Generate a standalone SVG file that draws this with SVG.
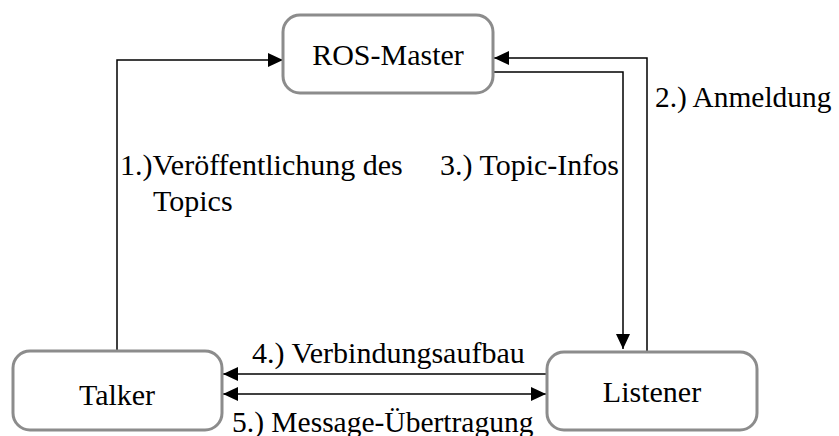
<svg xmlns="http://www.w3.org/2000/svg" width="839" height="436" viewBox="0 0 839 436">
<style>
.node{fill:#fff;stroke:#8c8c8c;stroke-width:3}
.t{font-family:"Liberation Serif","Times New Roman",serif;font-size:30px;fill:#000}
.c{text-anchor:middle}
.ln{fill:none;stroke:#000;stroke-width:1.5}
</style>
<defs>
<marker id="ah" markerWidth="16" markerHeight="14" refX="15" refY="7" orient="auto" markerUnits="userSpaceOnUse">
<path d="M0,0 L15,7 L0,14 Z" fill="#000"/>
</marker>
<marker id="as" markerWidth="16" markerHeight="14" refX="15" refY="7" orient="auto-start-reverse" markerUnits="userSpaceOnUse">
<path d="M0,0 L15,7 L0,14 Z" fill="#000"/>
</marker>
</defs>
<g id="connectors">
<polyline class="ln" points="117,351 117,60 283,60" marker-end="url(#ah)"/>
<polyline class="ln" points="647,352 647,58 494,58" marker-end="url(#ah)"/>
<polyline class="ln" points="494,72 623,72 623,349" marker-end="url(#ah)"/>
<line class="ln" x1="546" y1="374" x2="223" y2="374" marker-end="url(#ah)"/>
<line class="ln" x1="223" y1="394" x2="546" y2="394" marker-start="url(#as)" marker-end="url(#ah)"/>
<text class="t" x="120" y="175">1.)Veröffentlichung des</text>
<text class="t" x="153" y="211">Topics</text>
<text class="t" x="440" y="175">3.) Topic-Infos</text>
<text class="t" x="655" y="107" style="font-size:29.4px">2.) Anmeldung</text>
<text class="t" x="252" y="363">4.) Verbindungsaufbau</text>
<text class="t" x="232" y="432" style="font-size:29.5px">5.) Message-Übertragung</text>
</g>
<g id="ros-master">
<rect class="node" x="283" y="15" width="210" height="78" rx="17"/>
<text class="t c" x="388" y="65">ROS-Master</text>
</g>
<g id="talker">
<rect class="node" x="13" y="351" width="209" height="79" rx="17"/>
<text class="t c" x="117" y="405">Talker</text>
</g>
<g id="listener">
<rect class="node" x="547" y="352" width="210" height="78" rx="17"/>
<text class="t c" x="652" y="402">Listener</text>
</g>
</svg>
